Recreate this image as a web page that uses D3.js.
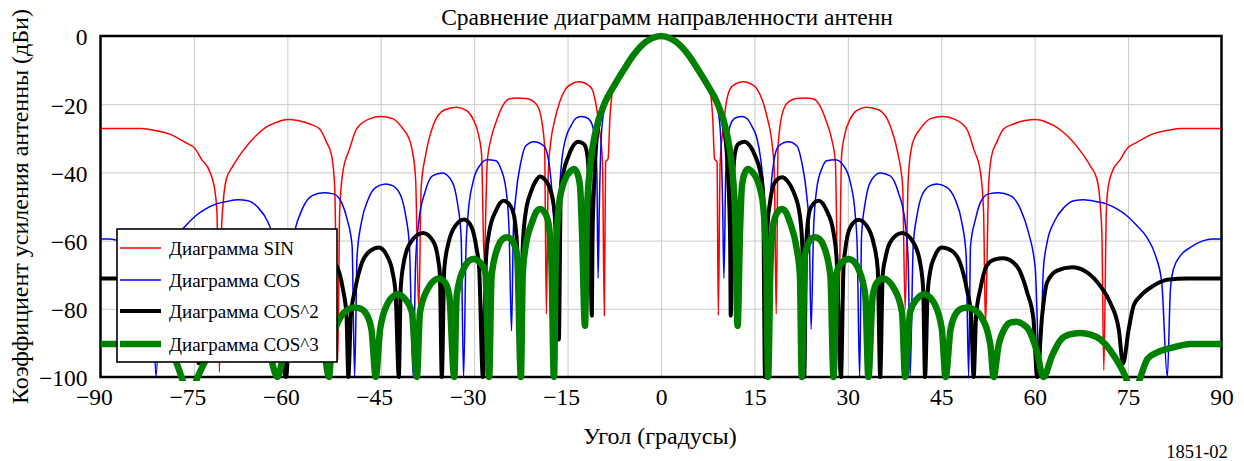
<!DOCTYPE html>
<html>
<head>
<meta charset="utf-8">
<script src="https://cdn.jsdelivr.net/npm/d3@7/dist/d3.min.js"></script>
<style>
  html, body { margin: 0; padding: 0; background: #ffffff; }
  svg { display: block; }
  text { font-family: "Liberation Serif", "Times New Roman", serif; fill: #000; }
</style>
</head>
<body>
<svg id="chart" width="1244" height="461"></svg>
<script>
// Antenna radiation patterns: [angle in degrees, gain in dBi]
const sinPattern = [
  [-90,-27.1],[-83.4,-27.1],[-81,-27.8],[-79,-28.7],[-76.4,-31.2],[-74.8,-33.1],[-73.8,-36.1],[-72.4,-40],[-71.6,-45.8],[-71.3,-52],
  [-70.9,-98.6],[-70.6,-58.6],[-70.3,-48.8],[-69.8,-42],[-68.7,-38],[-67.1,-33.6],[-65.0,-29.2],[-63.0,-26.3],[-61.6,-25.2],[-59.9,-24.5],
  [-58.3,-24.8],[-56.4,-25.8],[-54.8,-27.3],[-53.7,-31.2],[-52.9,-35],[-52.4,-44],[-51.9,-95],[-51.6,-51.7],[-51.1,-40],[-50.0,-33.1],
  [-48.9,-27.3],[-46.8,-24.3],[-45.0,-23.6],[-43.0,-24.3],[-41.4,-27.3],[-40.6,-29.5],[-40.0,-33],[-39.4,-42],[-38.9,-80.5],[-38.5,-44],
  [-37.8,-35],[-36.6,-26.3],[-34.8,-21.7],[-32.8,-20.9],[-31.2,-21.9],[-30.2,-24.3],[-29.3,-29],[-28.8,-35],[-28.4,-66],[-27.9,-37],
  [-27.3,-30.2],[-26.5,-25.3],[-25.4,-20.4],[-24.4,-18.5],[-23.1,-18.2],[-21.7,-18.3],[-20.6,-19],[-19.6,-21.4],[-18.7,-32],[-18.4,-81.5],
  [-18.1,-40],[-17.7,-31],[-17.1,-25],[-16.3,-19.5],[-15.3,-15.5],[-14.3,-14],[-13.2,-13.4],[-12.0,-14],[-11.1,-15.5],[-10.4,-20.5],
  [-9.9,-27],[-9.4,-37],[-9.1,-82],[-8.9,-37],[-8.5,-36],[-8.2,-24],[-7.8,-16.5],[-7,-13.2],[-6,-10],[-4.5,-5.8],[-3,-2.6],[-1.5,-0.7],
  [0,0],
  [1.5,-0.7],[3,-2.6],[4.5,-5.8],[6,-10],[7,-13.2],[7.9,-16.5],[8.3,-24],[8.6,-36],[9.0,-37],[9.2,-82],[9.5,-37],[10.0,-27],[10.4,-20.5],
  [11.1,-15.5],[12.0,-14],[13.2,-13.4],[14.4,-14],[15.4,-15.5],[16.4,-19.5],[17.2,-25],[17.8,-31],[18.2,-40],[18.5,-81.5],[18.8,-32],
  [19.7,-21.4],[20.7,-19],[21.8,-18.3],[23.2,-18.2],[24.5,-18.5],[25.5,-20.4],[26.6,-25.3],[27.4,-30.2],[28.0,-37],[28.5,-85],[29.0,-35],
  [29.5,-29],[30.4,-24.3],[31.4,-21.9],[33.0,-20.9],[35.0,-21.7],[36.8,-26.3],[38.1,-35],[38.8,-44],[39.2,-80],[39.7,-42],[40.2,-33],
  [40.8,-29.5],[41.6,-27.3],[43.2,-24.3],[45.2,-23.6],[47,-24.3],[49.1,-27.3],[50.2,-33.1],[51.3,-40],[51.8,-51.7],[52.1,-85],[52.6,-44],
  [53.1,-35],[53.9,-31.2],[55.0,-27.3],[56.6,-25.8],[58.5,-24.8],[60.1,-24.5],[61.8,-25.2],[63.1,-26.3],[65.2,-29.2],[67.3,-33.6],
  [68.9,-38],[70.0,-42],[70.5,-48.8],[70.8,-58.6],[71.1,-98],[71.5,-52],[71.7,-45.8],[72.4,-40],[73.8,-36.1],[74.8,-33.1],[76.4,-31.2],
  [79,-28.7],[81,-27.8],[83.4,-27.1],[90,-27.1]
];

const cosPattern = [
  [-90,-59.5],[-88.5,-59.5],[-87.1,-60],[-85.0,-62],[-83.4,-64.4],[-82.2,-68.3],[-81.6,-74.2],[-81.1,-100],[-80.3,-72.2],[-79.3,-64.4],
  [-77.9,-59],[-76.3,-55.6],[-74.7,-52.7],[-73.1,-50.7],[-71.5,-49.3],[-69.9,-48.6],[-67.9,-48],[-66.3,-48.3],[-64.7,-50.3],[-63.1,-54.6],
  [-62.0,-60.5],[-61.3,-68.3],[-60.6,-100],[-60.0,-68.3],[-58.9,-57.6],[-57.6,-50.7],[-56.0,-46.8],[-54.2,-46],[-52.6,-46.3],[-51.3,-48.8],
  [-50.4,-53.7],[-49.6,-61.5],[-49.2,-100],[-48.8,-64.4],[-48.1,-54.6],[-47.0,-47.8],[-45.8,-44.4],[-44.2,-43.4],[-43.1,-43.9],[-41.8,-46.8],
  [-41.0,-52.7],[-40.4,-61.5],[-39.8,-100],[-39.4,-66.4],[-38.9,-54.6],[-37.9,-45.8],[-36.7,-41],[-35.1,-40.2],[-33.5,-42.9],[-32.7,-48.8],
  [-32.1,-58.6],[-31.7,-100],[-31.3,-61.5],[-31.0,-52.7],[-30.2,-42.9],[-29.1,-38],[-27.9,-36.3],[-26.5,-36.6],[-25.7,-39],[-24.9,-44.9],
  [-24.4,-56.6],[-24.0,-86.5],[-23.7,-56.6],[-23.3,-46.8],[-22.5,-37],[-21.7,-32.2],[-20.4,-31],[-18.8,-32.2],[-18.0,-37],[-17.4,-48.8],
  [-17.1,-60],[-16.8,-100],[-16.6,-55],[-16.3,-45],[-15.9,-36],[-15.3,-30],[-14.5,-26.5],[-13.7,-24.2],[-12.9,-23.6],[-12.1,-23.8],
  [-11.3,-25],[-10.7,-29],[-10.3,-40],[-10.1,-71],[-9.9,-50],[-9.6,-30],[-9.2,-22.4],[-8.5,-18.5],[-7.5,-14.5],[-6,-10],[-4.5,-5.8],
  [-3,-2.6],[-1.5,-0.7],
  [0,0],
  [1.5,-0.7],[3,-2.6],[4.5,-5.8],[6,-10],[7.5,-14.5],[8.5,-18.5],[9.2,-22.4],[9.6,-30],[9.9,-50],[10.1,-71],[10.4,-40],[10.8,-29],
  [11.4,-25],[12.2,-23.8],[13.0,-23.6],[13.8,-24.2],[14.6,-26.5],[15.4,-30],[16.0,-36],[16.5,-45],[16.8,-55],[17.0,-100],[17.2,-60],
  [17.5,-48.8],[18.1,-37],[18.9,-32.2],[20.5,-31],[21.8,-32.2],[22.6,-37],[23.4,-46.8],[23.8,-56.6],[24.1,-86],[24.5,-56.6],[25.0,-44.9],
  [25.8,-39],[26.6,-36.6],[28.0,-36.3],[29.3,-38],[30.4,-42.9],[31.2,-52.7],[31.5,-61.5],[31.9,-100],[32.2,-58.6],[32.8,-48.8],
  [33.6,-42.9],[35.2,-40.2],[36.8,-41],[38.1,-45.8],[39.2,-54.6],[39.7,-66.4],[40.0,-100],[40.5,-61.5],[41.1,-52.7],[41.9,-46.8],
  [43.2,-43.9],[44.3,-43.4],[45.9,-44.4],[47.2,-47.8],[48.3,-54.6],[49.0,-64.4],[49.4,-100],[49.7,-61.5],[50.5,-53.7],[51.3,-48.8],
  [52.6,-46.3],[54.2,-46],[56.1,-46.8],[57.7,-50.7],[59.0,-57.6],[60.1,-68.3],[60.8,-100],[61.4,-68.3],[62.0,-60.5],[63.1,-54.6],
  [64.7,-50.3],[66.3,-48.3],[67.9,-48],[70.0,-48.6],[71.6,-49.3],[73.2,-50.7],[74.8,-52.7],[76.4,-55.6],[78.0,-59],[79.4,-64.4],
  [80.4,-72.2],[81.3,-100],[81.8,-74.2],[82.3,-68.3],[83.4,-64.4],[85.0,-62],[87.1,-60],[88.5,-59.5],[90,-59.5]
];

const cos2Pattern = [
  [-90,-71.1],[-84.5,-71.1],[-81.3,-71.5],[-79.1,-73.2],[-77.0,-76.2],[-75.9,-79],[-75.1,-86],[-74.2,-96],[-73.5,-86],[-72.1,-78.1],
  [-70.5,-73.2],[-68.4,-69.3],[-66.0,-67.8],[-63.6,-68.8],[-62.0,-72.2],[-61.2,-82],[-60.2,-100],[-59.6,-83],[-58.6,-75.2],[-56.9,-67.4],
  [-54.8,-65.2],[-53.3,-65.6],[-52.1,-67.4],[-51.1,-74],[-50.5,-82],[-50.2,-100],[-49.8,-82],[-49.1,-74.2],[-48.0,-66.4],[-46.7,-63],
  [-45.3,-62],[-44.0,-64.4],[-43.1,-69.3],[-42.6,-76],[-42.1,-100],[-41.8,-74.2],[-41.3,-66.4],[-40.2,-60.5],[-38.2,-57.8],[-36.5,-60.5],
  [-35.8,-65.4],[-35.5,-70],[-35.2,-100],[-34.8,-68.3],[-34.1,-60.5],[-33.0,-55.6],[-31.6,-53.8],[-30.4,-56.1],[-29.6,-62.5],[-29.2,-68],
  [-28.6,-100],[-28.1,-65.4],[-27.6,-57.6],[-26.5,-51.2],[-25.3,-48.3],[-24.2,-49.8],[-23.6,-52.7],[-23.1,-62],[-22.5,-100],[-22.2,-62],
  [-21.8,-52.7],[-20.9,-45.8],[-20.1,-42.5],[-19.4,-41.2],[-18.7,-42],[-18.0,-44],[-17.3,-48.8],[-16.8,-58],[-16.4,-89],[-16.1,-46],
  [-15.6,-39.5],[-14.9,-35.5],[-14.2,-32.5],[-13.3,-31],[-12.4,-31.7],[-11.9,-34.1],[-11.5,-45],[-11.1,-82],[-11.0,-60],[-10.7,-42],
  [-10.2,-28],[-9,-20],[-7.5,-14.5],[-6,-10],[-4.5,-5.8],[-3,-2.6],[-1.5,-0.7],
  [0,0],
  [1.5,-0.7],[3,-2.6],[4.5,-5.8],[6,-10],[7.5,-14.5],[9,-20],[10.2,-28],[10.8,-42],[11.1,-60],[11.2,-82],[11.5,-45],[11.9,-34.1],
  [12.4,-31.7],[13.4,-31],[14.4,-32.5],[15.2,-35.5],[15.9,-39.5],[16.4,-46],[16.7,-100],[17.0,-58],[17.5,-48.8],[18.0,-44],[18.7,-42],
  [19.4,-41.4],[20.3,-42.5],[21.3,-45.8],[22.3,-52.7],[22.7,-62],[23.0,-100],[23.3,-62],[23.7,-52.7],[24.2,-49.8],[25.3,-48.3],
  [26.6,-51.2],[27.7,-57.6],[28.2,-65.4],[28.9,-100],[29.3,-68],[29.6,-62.5],[30.4,-56.1],[31.7,-53.9],[33.0,-55.6],[34.1,-60.5],
  [34.8,-68.3],[35.2,-100],[35.6,-70],[36.0,-65.4],[36.8,-60.5],[38.7,-57.8],[40.5,-60.5],[41.6,-66.4],[42.1,-74.2],[42.4,-100],
  [42.8,-76],[43.2,-69.3],[44.0,-64.4],[45.1,-62],[46.7,-63],[48.0,-66.4],[49.1,-74.2],[49.8,-82],[50.2,-100],[50.6,-82],[51.3,-74],
  [52.3,-67.4],[53.5,-65.6],[55.0,-65.2],[57.1,-67.4],[58.8,-75.2],[59.8,-83],[60.4,-100],[61.2,-82],[62.0,-72.2],[63.6,-68.8],
  [66.0,-67.8],[68.4,-69.3],[70.5,-73.2],[72.1,-78.1],[73.5,-86],[74.2,-96],[75.1,-86],[75.9,-79],[77.0,-76.2],[79.1,-73.2],
  [81.3,-71.5],[84.5,-71.1],[90,-71.1]
];

const cos3Pattern = [
  [-90,-90.3],[-85.0,-90.3],[-82.3,-91.3],[-79.7,-92.8],[-78.1,-94.7],[-77.0,-100],[-75.8,-106],[-74.4,-100],[-72.7,-93.7],[-70.5,-88.9],
  [-69.0,-87.6],[-67.3,-87.1],[-65.5,-87.6],[-64.1,-89.3],[-62.8,-93.7],[-61.6,-100],[-60.5,-92.8],[-59.0,-86],[-58.1,-84.5],[-57.1,-83.8],
  [-56.2,-84],[-55.3,-85.4],[-54.2,-90.8],[-53.3,-100],[-52.9,-90.8],[-51.3,-82],[-50.3,-80.3],[-49.4,-79.6],[-48.5,-79.8],[-47.5,-81],
  [-46.5,-86],[-45.8,-100],[-45.1,-86],[-43.8,-78.1],[-43.0,-76.3],[-42.3,-75.7],[-41.1,-77.1],[-40.0,-81],[-39.2,-100],[-38.7,-81],
  [-37.3,-73.7],[-36.5,-71.8],[-35.7,-71.1],[-34.7,-72.2],[-34.0,-76.1],[-33.2,-100],[-32.8,-76.1],[-31.7,-68.3],[-31.0,-66.2],[-30.1,-65.4],
  [-29.0,-66.5],[-28.2,-69.3],[-27.6,-100],[-27.2,-70.3],[-26.1,-61.5],[-25.4,-59.5],[-24.7,-59],[-23.9,-60],[-23.1,-64.4],[-22.5,-100],
  [-22.2,-70],[-21.8,-62.5],[-20.7,-54.6],[-20.0,-51.5],[-19.4,-50.7],[-18.9,-51.2],[-18.1,-54.6],[-17.6,-66],[-17.2,-100],[-16.9,-66],
  [-16.4,-49.8],[-16.0,-45.5],[-15.4,-42],[-14.7,-40],[-14.0,-39],[-13.5,-40],[-13.0,-44],[-12.7,-56.6],[-12.2,-85],[-11.9,-52],
  [-11.3,-37],[-10.5,-28],[-9,-19.5],[-7.5,-14.5],[-6,-10],[-4.5,-5.8],[-3,-2.6],[-1.5,-0.7],
  [0,0],
  [1.5,-0.7],[3,-2.6],[4.5,-5.8],[6,-10],[7.5,-14.5],[9,-19.5],[10.5,-28],[11.3,-37],[11.9,-52],[12.3,-85],[12.7,-56.6],[13.0,-44],
  [13.5,-40],[14.0,-39],[14.7,-40],[15.4,-42],[16.0,-45.5],[16.4,-49.8],[16.9,-66],[17.2,-100],[17.6,-66],[18.1,-54.6],[18.9,-51.2],
  [19.4,-50.7],[20.0,-51.5],[20.7,-54.6],[21.8,-62.5],[22.3,-70],[22.6,-100],[23.1,-64.4],[23.9,-60],[24.7,-59],[25.4,-59.5],[26.1,-61.5],
  [27.2,-70.3],[27.7,-100],[28.2,-69.3],[29.0,-66.5],[30.1,-65.4],[31.0,-66.2],[31.7,-68.3],[32.8,-76.1],[33.3,-100],[34.0,-76.1],
  [34.7,-72.2],[35.7,-71.1],[36.5,-71.8],[37.3,-73.7],[38.7,-81],[39.2,-100],[40.0,-81],[41.1,-77.1],[42.3,-75.7],[43.0,-76.3],
  [43.8,-78.1],[45.1,-86],[45.7,-100],[46.5,-86],[47.5,-81],[48.5,-79.8],[49.4,-79.6],[50.3,-80.3],[51.3,-82],[52.9,-90.8],[53.4,-100],
  [54.2,-90.8],[55.3,-85.4],[56.2,-84],[57.1,-83.8],[58.1,-84.5],[59.0,-86],[60.4,-92.8],[61.4,-100],[62.8,-93.7],[64.1,-89.3],
  [65.5,-87.6],[67.3,-87.1],[69.0,-87.6],[70.5,-88.9],[72.7,-93.7],[74.6,-100],[75.8,-106],[77.0,-100],[78.1,-94.7],[79.7,-92.8],
  [82.3,-91.3],[85.0,-90.3],[90,-90.3]
];

const seriesNames  = ["Диаграмма SIN", "Диаграмма COS", "Диаграмма COS^2", "Диаграмма COS^3"];
const xTickValues  = [-90, -75, -60, -45, -30, -15, 0, 15, 30, 45, 60, 75, 90];
const yTickValues  = [0, -20, -40, -60, -80, -100];

const titleText  = "Сравнение диаграмм направленности антенн";
const xTitleText = "Угол (градусы)";
const yTitleText = "Коэффициент усиления антенны (дБи)";
const figureId   = "1851-02";

// ---- layout ----
const plot = { left: 100.5, right: 1221.5, top: 36, bottom: 377 };
const svg = d3.select("#chart");

const x = d3.scaleLinear().domain([-90, 90]).range([plot.left, plot.right]);
const y = d3.scaleLinear().domain([-100, 0]).range([plot.bottom, plot.top]);

const styles = [
  { color: "#ff0000", width: 1.5 },
  { color: "#0000ff", width: 1.5 },
  { color: "#000000", width: 4 },
  { color: "#008000", width: 6.5 }
];
const patterns = [sinPattern, cosPattern, cos2Pattern, cos3Pattern];

const minusSign = v => (v < 0 ? "\u2212" : "") + Math.abs(v);
const serif = "Liberation Serif, Times New Roman, serif";

// grid
svg.append("g")
  .attr("transform", `translate(0,${plot.bottom})`)
  .call(d3.axisBottom(x).tickValues(xTickValues.slice(1, -1)).tickSize(-(plot.bottom - plot.top)).tickFormat(""))
  .call(g => g.select(".domain").remove())
  .call(g => g.selectAll("line").attr("stroke", "#cbcbcb").attr("stroke-width", 1));
svg.append("g")
  .attr("transform", `translate(${plot.left},0)`)
  .call(d3.axisLeft(y).tickValues(yTickValues.slice(1, -1)).tickSize(-(plot.right - plot.left)).tickFormat(""))
  .call(g => g.select(".domain").remove())
  .call(g => g.selectAll("line").attr("stroke", "#cbcbcb").attr("stroke-width", 1));

// frame
svg.append("rect")
  .attr("x", plot.left).attr("y", plot.top)
  .attr("width", plot.right - plot.left).attr("height", plot.bottom - plot.top)
  .attr("fill", "none").attr("stroke", "#000").attr("stroke-width", 2.5);

// tick labels
svg.append("g")
  .attr("transform", `translate(${plot.left},0)`)
  .call(d3.axisLeft(y).tickValues(yTickValues).tickSize(0).tickPadding(13).tickFormat(minusSign))
  .call(g => g.select(".domain").remove())
  .call(g => g.selectAll("text")
    .attr("font-family", serif)
    .attr("font-size", 23.5).attr("dy", "0.38em"));

svg.append("g")
  .attr("transform", `translate(0,${plot.bottom})`)
  .call(d3.axisBottom(x).tickValues(xTickValues).tickSize(0).tickPadding(11).tickFormat(minusSign))
  .call(g => g.select(".domain").remove())
  .call(g => g.selectAll("text")
    .attr("font-family", serif)
    .attr("font-size", 23.5)
    .attr("dx", d => d < 0 ? "-0.28em" : 0));

// pattern curves
const clipId = "plot-clip";
svg.append("defs").append("clipPath").attr("id", clipId)
  .append("rect")
  .attr("x", plot.left - 6).attr("y", plot.top - 8)
  .attr("width", plot.right - plot.left + 12).attr("height", plot.bottom - plot.top + 12);

const line = d3.line()
  .x(d => x(d[0]))
  .y(d => y(d[1]))
  .curve(d3.curveMonotoneX);

const curves = svg.append("g").attr("clip-path", `url(#${clipId})`);
patterns.forEach((data, i) => {
  curves.append("path")
    .datum(data)
    .attr("d", line)
    .attr("fill", "none")
    .attr("stroke", styles[i].color)
    .attr("stroke-width", styles[i].width)
    .attr("stroke-linejoin", "round");
});

// legend
const legend = svg.append("g");
legend.append("rect")
  .attr("x", 117).attr("y", 229).attr("width", 220).attr("height", 133)
  .attr("fill", "#fff").attr("stroke", "#000").attr("stroke-width", 1.6);
const legendRows = [248, 280, 311, 344];
seriesNames.forEach((name, i) => {
  legend.append("line")
    .attr("x1", 120).attr("x2", 161)
    .attr("y1", legendRows[i]).attr("y2", legendRows[i])
    .attr("stroke", styles[i].color).attr("stroke-width", styles[i].width);
  legend.append("text")
    .attr("x", 169).attr("y", legendRows[i] + 7)
    .attr("font-size", 19)
    .text(name);
});

// titles
svg.append("text")
  .attr("x", 667).attr("y", 25)
  .attr("text-anchor", "middle").attr("font-size", 23.5)
  .text(titleText);
svg.append("text")
  .attr("x", 660).attr("y", 444)
  .attr("text-anchor", "middle").attr("font-size", 24)
  .text(xTitleText);
svg.append("text")
  .attr("transform", `translate(28,${(plot.top + plot.bottom) / 2}) rotate(-90)`)
  .attr("text-anchor", "middle").attr("font-size", 24)
  .text(yTitleText);
svg.append("text")
  .attr("x", 1197).attr("y", 458)
  .attr("text-anchor", "middle").attr("font-size", 18.5)
  .text(figureId);
</script>
</body>
</html>
